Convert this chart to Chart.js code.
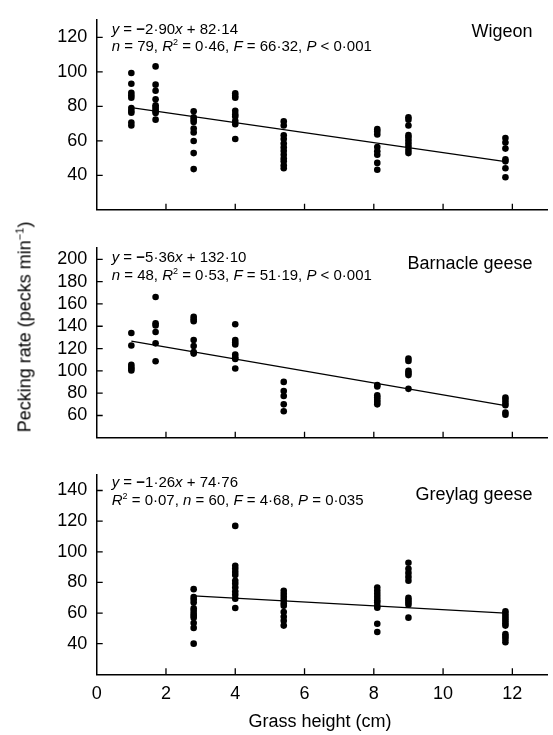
<!DOCTYPE html>
<html><head><meta charset="utf-8">
<script src="https://cdn.jsdelivr.net/npm/chart.js@4.4.1/dist/chart.umd.min.js"></script>
<style>
html,body{margin:0;padding:0;background:#fff;}
body{width:553px;height:735px;position:relative;overflow:hidden;font-family:"Liberation Sans",Arial,sans-serif;color:#000;}
canvas{position:absolute;left:0;}
#ytitle{position:absolute;left:25px;top:327px;transform:translate(-50%,-50%) rotate(-90deg);white-space:nowrap;font-size:18px;}
#xtitle{position:absolute;left:320px;top:721px;transform:translate(-50%,-50%);white-space:nowrap;font-size:18px;}
sup{font-size:11px;vertical-align:7px;line-height:0;}
</style></head>
<body>
<canvas id="c1" width="553" height="230" style="top:0px"></canvas>
<canvas id="c2" width="553" height="230" style="top:228px"></canvas>
<canvas id="c3" width="553" height="280" style="top:455px"></canvas>
<div id="ytitle">Pecking rate (pecks min<sup>−1</sup>)</div>
<div id="xtitle">Grass height (cm)</div>
<script>
// ---- data ----
const grassHeights = [1.0, 1.7, 2.8, 4.0, 5.4, 8.1, 9.0, 11.8];
const greylagHeights = [2.8, 4.0, 5.4, 8.1, 9.0, 11.8];
const wigeonRates = [
  [99.4, 93.1, 87.9, 86.5, 85.0, 79.0, 77.5, 76.3, 70.6, 68.9],
  [103.2, 92.6, 89.1, 84.1, 80.7, 79.6, 78.4, 77.0, 76.2, 72.3],
  [77.2, 73.7, 72.3, 71.0, 67.1, 64.9, 59.9, 52.9, 43.6],
  [87.6, 86.2, 85.0, 77.5, 75.5, 74.1, 71.5, 69.7, 61.1],
  [71.3, 68.9, 63.2, 61.1, 58.5, 56.2, 54.1, 51.9, 49.8, 48.1, 45.8, 44.1],
  [66.8, 65.4, 63.7, 56.4, 54.0, 51.9, 47.2, 43.2],
  [73.7, 72.3, 68.9, 63.3, 61.9, 60.2, 58.5, 56.7, 54.7, 52.9],
  [61.6, 59.0, 55.5, 49.3, 48.1, 44.1, 38.9]
];
const barnacleRates = [
  [134.0, 122.8, 105.4, 103.5, 101.9, 100.3],
  [166.2, 142.6, 140.8, 134.9, 124.7, 108.6],
  [148.5, 146.4, 144.5, 127.6, 122.3, 116.9, 115.5],
  [141.8, 127.6, 125.7, 123.6, 114.7, 112.3, 110.7, 102.1],
  [90.1, 82.0, 77.5, 70.0, 63.8],
  [87.4, 86.1, 78.0, 76.1, 74.0, 72.1, 70.0],
  [111.0, 108.8, 100.0, 98.1, 96.2, 83.9],
  [76.1, 74.0, 71.3, 69.2, 62.7, 60.6]
];
const greylagRates = [
  [75.6, 70.5, 68.8, 66.8, 63.1, 61.5, 59.6, 58.2, 56.9, 53.5, 50.3, 40.0],
  [116.9, 90.9, 88.9, 86.8, 84.8, 81.1, 79.1, 76.6, 74.0, 71.9, 69.4, 63.3],
  [74.6, 72.5, 70.5, 68.4, 66.4, 64.7, 60.7, 57.5, 55.0, 51.8],
  [76.6, 74.6, 72.5, 70.5, 68.4, 66.8, 64.7, 63.5, 53.0, 47.6],
  [92.8, 88.9, 86.2, 83.6, 81.1, 69.9, 68.4, 66.8, 65.4, 57.0],
  [61.1, 59.6, 58.1, 56.5, 54.9, 53.4, 51.8, 46.2, 44.7, 43.1, 41.0]
];
const xTicks = [0, 2, 4, 6, 8, 10, 12];
const wigeonTicks = [40, 60, 80, 100, 120];
const barnacleTicks = [60, 80, 100, 120, 140, 160, 180, 200];
const greylagTicks = [40, 60, 80, 100, 120, 140];
const speciesNames = ["Wigeon", "Barnacle geese", "Greylag geese"];
const slopes = [-2.90, -5.36, -1.26];
const intercepts = [82.14, 132.10, 74.76];
const wigeonStats = [
  [["y","i"],[" = ","n"],["−","b"],["2·90","n"],["x","i"],[" + 82·14","n"]],
  [["n","i"],[" = 79, ","n"],["R","i"],["2","s"],[" = 0·46, ","n"],["F","i"],[" = 66·32, ","n"],["P","i"],[" < 0·001","n"]]
];
const barnacleStats = [
  [["y","i"],[" = ","n"],["−","b"],["5·36","n"],["x","i"],[" + 132·10","n"]],
  [["n","i"],[" = 48, ","n"],["R","i"],["2","s"],[" = 0·53, ","n"],["F","i"],[" = 51·19, ","n"],["P","i"],[" < 0·001","n"]]
];
const greylagStats = [
  [["y","i"],[" = ","n"],["−","b"],["1·26","n"],["x","i"],[" + 74·76","n"]],
  [["R","i"],["2","s"],[" = 0·07, ","n"],["n","i"],[" = 60, ","n"],["F","i"],[" = 4·68, ","n"],["P","i"],[" = 0·035","n"]]
];

// ---- drawing ----
const FAM = '"Liberation Sans", Arial, Helvetica, sans-serif';
function drawRich(ctx, x, y, segs, size){
  for (const [t, s] of segs){
    let fs = size, dy = 0, pre = '';
    if (s === 'i') pre = 'italic ';
    if (s === 'b') pre = 'bold ';
    if (s === 's'){ fs = Math.round(size*0.62); dy = -size*0.4; }
    ctx.font = pre + fs + 'px ' + FAM;
    ctx.fillText(t, x, y + dy);
    x += ctx.measureText(t).width;
  }
}

function makePanel(id, heights, rates, yTicks, yMin, yMax, k, stats, lay){
  const pts = [];
  heights.forEach((h, i) => rates[i].forEach(v => pts.push({x: h, y: v})));
  const x0 = heights[0], x1 = heights[heights.length - 1];
  const fit = [{x: x0, y: slopes[k]*x0 + intercepts[k]}, {x: x1, y: slopes[k]*x1 + intercepts[k]}];
  const textPlugin = {
    id: 'panelText' + k,
    afterDraw(chart){
      const ctx = chart.ctx;
      const xs = chart.scales.x, ys = chart.scales.y;
      ctx.save();
      ctx.strokeStyle = '#000'; ctx.lineWidth = 1.3;
      // inward tick marks
      ctx.beginPath();
      yTicks.forEach(v => { const p = ys.getPixelForValue(v); ctx.moveTo(xs.left, p); ctx.lineTo(xs.left + 6, p); });
      xTicks.forEach(v => { if (v === 0) return; const p = xs.getPixelForValue(v); ctx.moveTo(p, ys.bottom); ctx.lineTo(p, ys.bottom - 6); });
      ctx.stroke();
      ctx.fillStyle = '#000';
      ctx.textBaseline = 'alphabetic';
      ctx.textAlign = 'left';
      drawRich(ctx, 111.7, lay.l1, stats[0], 15);
      drawRich(ctx, 111.7, lay.l2, stats[1], 15);
      ctx.textAlign = 'right';
      ctx.font = '18px ' + FAM;
      ctx.fillText(speciesNames[k], 532.5, lay.nameY);
      ctx.restore();
    }
  };
  return new Chart(document.getElementById(id), {
    type: 'scatter',
    data: {datasets: [
      {data: fit, showLine: true, borderColor: '#000', borderWidth: 1.2, pointRadius: 0, order: 1},
      {data: pts, pointRadius: 3.3, pointBackgroundColor: '#000', pointBorderWidth: 0, backgroundColor: '#000', borderWidth: 0, order: 0}
    ]},
    options: {
      responsive: false, animation: false, events: [],
      layout: {padding: {top: lay.top, right: 6, bottom: 0, left: 0}},
      plugins: {legend: {display: false}, tooltip: {enabled: false}},
      scales: {
        x: {
          type: 'linear', min: 0, max: 13,
          grid: {display: true, drawOnChartArea: false, drawTicks: false},
          border: {display: true, color: '#000', width: 1.5},
          ticks: {display: lay.xLabels, color: '#000', font: {size: 18, family: FAM}, padding: 9},
          afterBuildTicks: s => { s.ticks = xTicks.map(v => ({value: v})); },
          afterFit: s => { s.height = lay.xh; }
        },
        y: {
          type: 'linear', min: yMin, max: yMax,
          grid: {display: true, drawOnChartArea: false, drawTicks: false},
          border: {display: true, color: '#000', width: 1.5},
          ticks: {color: '#000', font: {size: 18, family: FAM}, padding: 9.4},
          afterBuildTicks: s => { s.ticks = yTicks.map(v => ({value: v})); },
          afterFit: s => { s.width = 96.7; }
        }
      }
    },
    plugins: [textPlugin]
  });
}

makePanel('c1', grassHeights, wigeonRates, wigeonTicks, 20, 130, 0, wigeonStats,
  {top: 8.3, xh: 11, xLabels: false, l1: 34, l2: 51, nameY: 37});
makePanel('c2', grassHeights, barnacleRates, barnacleTicks, 40, 210, 1, barnacleStats,
  {top: 9.3, xh: 10.3, xLabels: false, l1: 262 - 228, l2: 280 - 228, nameY: 269 - 228});
makePanel('c3', greylagHeights, greylagRates, greylagTicks, 20, 150, 2, greylagStats,
  {top: 10, xh: 60.7, xLabels: true, l1: 487 - 455, l2: 505 - 455, nameY: 500 - 455});
</script>
</body></html>
